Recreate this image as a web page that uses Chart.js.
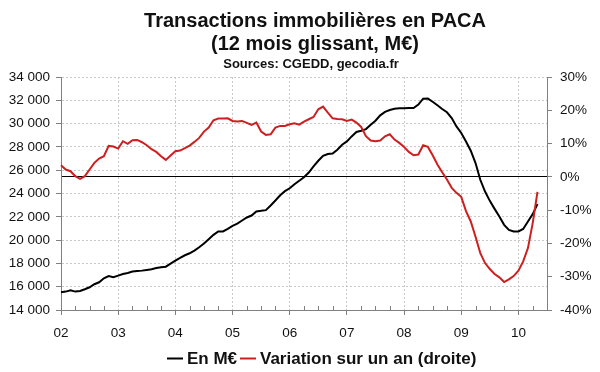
<!DOCTYPE html>
<html><head><meta charset="utf-8">
<script src="https://cdn.jsdelivr.net/npm/chart.js@4"></script>
<style>html,body{margin:0;padding:0;background:#fff}#wrap{width:600px;height:372px;position:relative}</style>
</head><body><div id="wrap"><canvas id="c"></canvas></div>
<script>
const titleLines = ["Transactions immobilières en PACA", "(12 mois glissant, M€)"];
const subtitleText = "Sources: CGEDD, gecodia.fr";
const seriesNames = ["En M€", "Variation sur un an (droite)"];
const yearLabels = ["02","03","04","05","06","07","08","09","10"];
const leftTicks = [14000, 34000, 2000];   // min, max, step
const rightTicks = [-40, 30, 10];         // min, max, step

// monthly categories Jan 2002 .. Jul 2010
const months = [];
for (let y = 2002; y <= 2010; y++) {
  for (let m = 1; m <= 12; m++) {
    if (y === 2010 && m > 7) break;
    months.push(y + "-" + String(m).padStart(2, "0"));
  }
}

// 12-month rolling transactions, M€ (Jan 2002 .. May 2010)
const levelValues = [
  15520,15580,15690,15580,15630,15780,15950,16210,16380,16720,16920,16810,
  16950,17090,17180,17300,17350,17380,17440,17500,17610,17670,17720,17980,
  18240,18480,18700,18870,19100,19390,19700,20080,20450,20740,20740,20960,
  21220,21420,21680,21940,22110,22460,22510,22570,22970,23400,23850,24200,
  24450,24800,25100,25400,25800,26320,26810,27240,27390,27440,27760,28190,
  28470,28900,29280,29390,29530,29910,30250,30710,31000,31170,31280,31310,
  31310,31340,31340,31630,32140,32150,31880,31570,31250,30970,30480,29760,
  29190,28470,27670,26610,25180,24170,23370,22680,22020,21310,20880,20740,
  20740,20960,21600,22230,23090
];
// year-on-year variation, % (right axis)
const variationValues = [
  3.5,2.2,1.7,0.2,-0.6,0.2,2.2,4.2,5.5,6.2,9.3,9.1,
  8.5,10.7,9.9,11.0,11.1,10.4,9.5,8.3,7.5,6.2,5.1,6.4,
  7.7,7.9,8.6,9.4,10.5,11.7,13.6,14.8,17.0,17.5,17.5,17.6,
  16.8,16.6,16.8,16.2,15.6,16.3,13.6,12.6,12.8,14.8,15.3,15.3,
  15.8,16.1,15.7,16.6,17.3,18.0,20.3,21.1,19.3,17.6,17.4,17.3,
  16.8,17.2,16.3,15.0,12.2,10.9,10.7,10.9,12.2,12.8,11.2,10.2,
  9.0,7.5,6.5,6.7,9.5,9.0,6.5,3.7,1.4,-0.8,-3.3,-4.8,
  -6.0,-10.3,-13.4,-18.0,-22.9,-25.9,-27.7,-29.2,-30.2,-31.6,-30.8,-29.8,
  -28.2,-25.4,-21.4,-13.9,-4.5
];

const colBlack = "#000000";
const colRed = "#cc2020";
const axisGray = "#808080";
const gridGray = "#c8c8c8";
const FONT = "'Liberation Sans', Arial, Helvetica, sans-serif";
Chart.defaults.font.family = FONT;
Chart.defaults.color = "#111";

function fmtThousands(v) {
  return String(v).replace(/\B(?=(\d{3})+(?!\d))/g, " ");
}

const decor = {
  id: "decor",
  afterDraw(chart) {
    const ctx = chart.ctx;
    const xs = chart.scales.x;
    const area = chart.chartArea;
    ctx.save();
    // quarterly inward minor ticks
    ctx.strokeStyle = axisGray;
    ctx.lineWidth = 1;
    for (let i = 0; i < months.length; i++) {
      if (i % 3 === 0 && i % 12 !== 0) {
        const px = Math.round(xs.getPixelForValue(i)) + 0.5;
        ctx.beginPath();
        ctx.moveTo(px, area.bottom - 4);
        ctx.lineTo(px, area.bottom);
        ctx.stroke();
      }
    }
    // titles
    ctx.fillStyle = "#111";
    ctx.textAlign = "center";
    ctx.textBaseline = "alphabetic";
    ctx.font = "bold 20px " + FONT;
    ctx.fillText(titleLines[0], 315, 27);
    ctx.fillText(titleLines[1], 315, 49.5);
    ctx.font = "bold 13px " + FONT;
    ctx.fillText(subtitleText, 311, 67.5);
    // legend
    ctx.font = "bold 17px " + FONT;
    ctx.textAlign = "left";
    const cols = [colBlack, colRed];
    const lineStarts = [167, 240];
    const ly = 358.5;
    for (let k = 0; k < seriesNames.length; k++) {
      const x = lineStarts[k];
      ctx.strokeStyle = cols[k];
      ctx.lineWidth = 2;
      ctx.beginPath();
      ctx.moveTo(x, ly);
      ctx.lineTo(x + 16, ly);
      ctx.stroke();
      ctx.fillStyle = "#111";
      ctx.fillText(seriesNames[k], x + 20, 364);
    }
    ctx.restore();
  }
};

new Chart(document.getElementById("c"), {
  type: "line",
  data: {
    labels: months,
    datasets: [
      { label: seriesNames[0], data: levelValues, yAxisID: "y", borderColor: colBlack, backgroundColor: colBlack,
        borderWidth: 2, pointRadius: 0, tension: 0, order: 1 },
      { label: seriesNames[1], data: variationValues, yAxisID: "y1", borderColor: colRed, backgroundColor: colRed,
        borderWidth: 2, pointRadius: 0, tension: 0, order: 0 }
    ]
  },
  options: {
    responsive: true,
    maintainAspectRatio: false,
    animation: false,
    layout: { padding: { top: 77, left: 0, right: 0, bottom: 0 } },
    plugins: { legend: { display: false }, title: { display: false }, tooltip: { enabled: false } },
    scales: {
      x: {
        type: "category",
        offset: false,
        grid: {
          color: c => (c.index % 12 === 0 ? gridGray : "rgba(0,0,0,0)"),
          tickColor: c => (c.index % 12 === 0 ? axisGray : "rgba(0,0,0,0)"),
          tickLength: 5
        },
        border: { color: axisGray, dash: [2, 2] },
        ticks: {
          autoSkip: false, maxRotation: 0, minRotation: 0, padding: 10,
          font: { size: 13.5 }, color: "#111",
          callback: (v, i) => (i % 12 === 0 ? yearLabels[i / 12] : "")
        },
        afterFit: s => { s.height = 62; }
      },
      y: {
        position: "left",
        min: leftTicks[0], max: leftTicks[1],
        ticks: { stepSize: leftTicks[2], padding: 6, font: { size: 13.5 }, color: "#111", callback: v => fmtThousands(v) },
        grid: { color: gridGray, tickColor: axisGray, tickLength: 5 },
        border: { color: axisGray, dash: [2, 2] },
        afterFit: s => { s.width = 61; }
      },
      y1: {
        position: "right",
        min: rightTicks[0], max: rightTicks[1],
        ticks: { stepSize: rightTicks[2], padding: 8, font: { size: 13.5 }, color: "#111", callback: v => v + "%" },
        grid: {
          color: c => (c.tick && c.tick.value === 0 ? "#000" : "rgba(0,0,0,0)"),
          tickColor: axisGray, tickLength: 5
        },
        border: { color: axisGray },
        afterFit: s => { s.width = 53; }
      }
    }
  },
  plugins: [decor]
});
</script></body></html>
